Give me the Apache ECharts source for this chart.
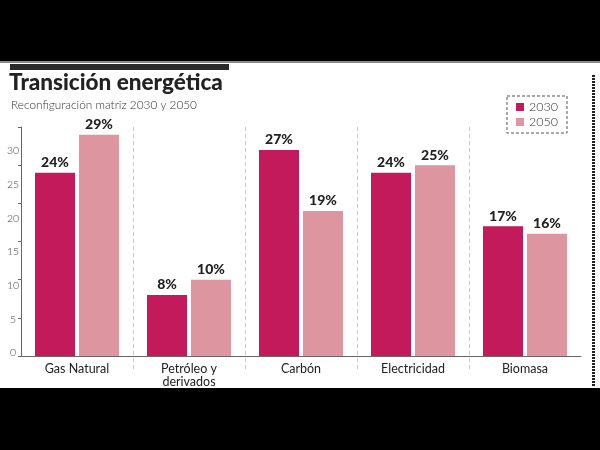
<!DOCTYPE html>
<html>
<head>
<meta charset="utf-8">
<script src="https://cdn.jsdelivr.net/npm/echarts@6/dist/echarts.min.js"></script>
<style>html,body{margin:0;padding:0;background:#fff}#c{width:600px;height:450px}</style>
</head>
<body>
<div id="c"></div>
<script>
const categories = ['Gas Natural', 'Petróleo y\nderivados', 'Carbón', 'Electricidad', 'Biomasa'];
const seriesNames = ['2030', '2050'];
const values2030 = [24, 8, 27, 24, 17];
const values2050 = [29, 10, 19, 25, 16];

const chart = echarts.init(document.getElementById('c'), null, {renderer: 'canvas'});
const FONT = 'Lato';
const option = {
  backgroundColor: '#ffffff',
  animation: false,
  title: [
    {text: 'Transición energética', left: 9, top: 71, padding: 0,
     textStyle: {fontFamily: FONT, fontWeight: 900, fontSize: 22.5, color: '#222'}},
    {text: 'Reconfiguración matriz 2030 y 2050', left: 11, top: 99, padding: 0,
     textStyle: {fontFamily: FONT, fontWeight: 300, fontSize: 11.8, color: '#333'}}
  ],
  legend: {
    data: seriesNames, orient: 'vertical', left: 507, top: 96,
    borderColor: '#555', borderWidth: 1, borderType: [3, 2],
    padding: [4, 9, 4, 9], itemWidth: 8, itemHeight: 8, itemGap: 1, icon: 'rect',
    textStyle: {fontFamily: FONT, fontWeight: 300, fontSize: 12.5, color: '#333', lineHeight: 14}
  },
  grid: [
    {left: 21, top: 127, width: 560, height: 229},
    {left: 21, top: 127, width: 560, height: 243},
    {left: 21, top: 151, width: 560, height: 202}
  ],
  xAxis: [
    {type: 'category', gridIndex: 0, data: categories,
     axisLine: {lineStyle: {color: '#666', width: 1}}, axisTick: {show: false},
     axisLabel: {margin: 6, fontFamily: FONT, fontSize: 12.5, color: '#222', lineHeight: 13}},
    {type: 'value', gridIndex: 1, min: 0, max: 5, interval: 1,
     axisLine: {show: false}, axisTick: {show: false}, axisLabel: {show: false},
     splitLine: {show: true, showMinLine: false, showMaxLine: false, lineStyle: {color: '#c8c8c8', type: [4, 3], width: 1}}},
    {type: 'value', gridIndex: 2, show: false}
  ],
  yAxis: [
    {type: 'value', gridIndex: 0, min: 0, max: 30, interval: 5,
     axisLine: {show: true, lineStyle: {color: '#666', width: 1}},
     axisTick: {show: true, length: 3, lineStyle: {color: '#666'}},
     axisLabel: {show: false}, splitLine: {show: false}},
    {type: 'value', gridIndex: 1, show: false},
    {type: 'value', gridIndex: 2, min: 0, max: 30, interval: 5,
     axisLine: {show: false}, axisTick: {show: false}, splitLine: {show: false},
     axisLabel: {margin: 8, align: 'center', fontFamily: FONT, fontWeight: 300, fontSize: 10.5, color: '#444'}}
  ],
  series: [
    {name: seriesNames[0], type: 'bar', xAxisIndex: 0, yAxisIndex: 0, data: values2030,
     barWidth: 40, barGap: '10%', itemStyle: {color: '#c21a5b'},
     label: {show: true, position: 'top', distance: 3, formatter: '{c}%',
             fontFamily: FONT, fontWeight: 900, fontSize: 14, color: '#222'}},
    {name: seriesNames[1], type: 'bar', xAxisIndex: 0, yAxisIndex: 0, data: values2050,
     barWidth: 40, barGap: '10%', itemStyle: {color: '#dd95a0'},
     label: {show: true, position: 'top', distance: 3, formatter: '{c}%',
             fontFamily: FONT, fontWeight: 900, fontSize: 14, color: '#222'}}
  ],
  graphic: [
    {type: 'rect', shape: {x: 0, y: 0, width: 600, height: 61}, style: {fill: '#000'}, silent: true},
    {type: 'rect', shape: {x: 0, y: 61, width: 600, height: 2}, style: {fill: '#8a8a8a'}, silent: true},
    {type: 'rect', shape: {x: 0, y: 388, width: 600, height: 62}, style: {fill: '#000'}, silent: true},
    {type: 'rect', shape: {x: 10, y: 64, width: 219, height: 6}, style: {fill: '#2a2a2a'}, silent: true},
    {type: 'line', shape: {x1: 593.5, y1: 75, x2: 593.5, y2: 386}, style: {stroke: '#222', lineWidth: 3, lineDash: [2, 1]}, silent: true}
  ]
};
chart.setOption(option);
</script>
</body>
</html>
